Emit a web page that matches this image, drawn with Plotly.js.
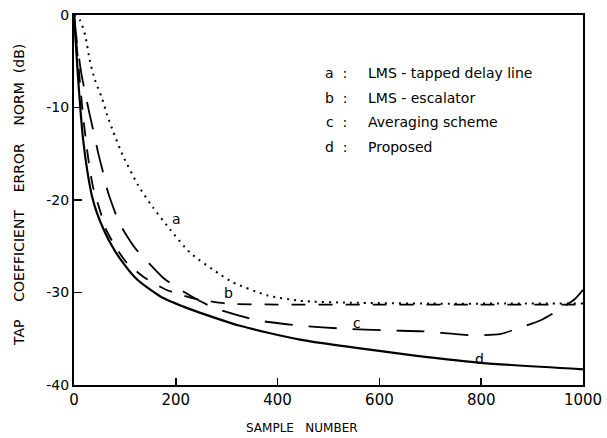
<!DOCTYPE html>
<html>
<head>
<meta charset="utf-8">
<script src="https://cdn.plot.ly/plotly-3.0.1.min.js"></script>
<style>html,body{margin:0;padding:0;background:#fff;}#chart{width:607px;height:438px;}</style>
</head>
<body>
<div id="chart"></div>
<script>
// a: LMS - tapped delay line (dotted)
const aX = [0, 12, 22, 31, 41, 55, 65, 77, 96, 126, 155, 189, 228, 283, 312, 379, 444, 542, 700, 850, 1000];
const aY = [0, -0.6, -2.2, -4.9, -7, -9, -10.8, -12.6, -15.2, -18.4, -20.8, -23.2, -25.7, -27.9, -28.9, -30.3, -30.9, -31.1, -31.2, -31.2, -31.2];
// b: LMS - escalator (medium dash)
const bX = [0, 8, 18, 28, 37, 53, 63, 83, 104, 139, 181, 232, 300, 400, 600, 800, 1000];
const bY = [0, -5, -11, -15.5, -18.5, -21.5, -23.2, -25.2, -26.8, -28.4, -29.7, -30.6, -31.2, -31.3, -31.3, -31.3, -31.3];
// c: Averaging scheme (long dash)
const cX = [0, 6, 14, 24, 31, 40, 47, 57, 67, 90, 120, 145, 175, 206, 240, 277, 360, 448, 528, 617, 686, 774, 837, 876, 917, 955, 984, 1000];
const cY = [0, -3, -6.2, -9, -10.8, -13, -14.8, -17, -19.2, -22.6, -25.2, -26.7, -28.4, -29.6, -30.7, -31.7, -33, -33.6, -33.9, -34.1, -34.2, -34.6, -34.5, -33.8, -33, -31.8, -30.7, -29.7];
// d: Proposed (solid)
const dX = [0, 4, 8, 13, 18, 26, 35, 45, 60, 75, 90, 124, 169, 228, 326, 444, 640, 800, 1000];
const dY = [0, -3.5, -6.8, -10.5, -13.5, -16.8, -19.5, -21.4, -23.4, -25, -26.3, -28.6, -30.4, -31.8, -33.6, -35.1, -36.6, -37.6, -38.3];

const xTicks = [0, 200, 400, 600, 800, 1000];
const xTickText = ['0', '200', '400', '600', '800', '1000'];
const yTicks = [0, -10, -20, -30, -40];
const yTickText = ['0', '-10', '-20', '-30', '-40'];

const legendKeys = ['a', 'b', 'c', 'd'];
const legendNames = ['LMS - tapped delay line', 'LMS - escalator', 'Averaging scheme', 'Proposed'];

const FONT = 'DejaVu Sans, Liberation Sans, sans-serif';
const sm = 0.6;
const traces = [
  {x: aX, y: aY, mode: 'lines', line: {color: '#000', width: 2, dash: '2px,5px', shape: 'spline', smoothing: sm}},
  {x: bX, y: bY, mode: 'lines', line: {color: '#000', width: 1.8, dash: '14px,13px', shape: 'spline', smoothing: sm}},
  {x: cX, y: cY, mode: 'lines', line: {color: '#000', width: 1.8, dash: '28px,16px', shape: 'spline', smoothing: sm}},
  {x: dX, y: dY, mode: 'lines', line: {color: '#000', width: 2.2, shape: 'spline', smoothing: sm}}
];

const annotations = [];
const rowY = [73, 98, 122, 147];
legendKeys.forEach((k, i) => {
  const yp = 1 - (rowY[i] - 15) / 370;
  annotations.push({xref: 'paper', yref: 'paper', x: (336 - 74) / 509, y: yp, text: k + '\u00a0\u00a0:', showarrow: false, xanchor: 'center', yanchor: 'middle', font: {family: FONT, size: 14, color: '#000'}});
  annotations.push({xref: 'paper', yref: 'paper', x: (366 - 74) / 509, y: yp, text: legendNames[i], showarrow: false, xanchor: 'left', yanchor: 'middle', font: {family: FONT, size: 14, color: '#000'}});
});
// curve labels
const curveLabelX = [202, 303, 555, 797];
const curveLabelY = [-22, -30.1, -33.3, -37.2];
legendKeys.forEach((k, i) => {
  annotations.push({x: curveLabelX[i], y: curveLabelY[i], xref: 'x', yref: 'y', text: k, showarrow: false, font: {family: FONT, size: 14, color: '#000'}});
});
// axis titles
annotations.push({xref: 'paper', yref: 'paper', x: (302 - 74) / 509, y: -(428 - 385) / 370, text: 'SAMPLE\u00a0\u00a0\u00a0NUMBER', showarrow: false, xanchor: 'center', yanchor: 'middle', font: {family: FONT, size: 12, color: '#000'}});
annotations.push({xref: 'paper', yref: 'paper', x: -(74 - 19) / 509, y: 1 - (195 - 15) / 370, text: 'TAP\u00a0\u00a0\u00a0\u00a0COEFFICIENT\u00a0\u00a0\u00a0\u00a0ERROR\u00a0\u00a0\u00a0\u00a0NORM\u00a0\u00a0(dB)', textangle: -90, showarrow: false, xanchor: 'center', yanchor: 'middle', font: {family: FONT, size: 14, color: '#000'}});

const layout = {
  width: 607, height: 438,
  margin: {l: 74, r: 24, t: 15, b: 53},
  paper_bgcolor: '#fff', plot_bgcolor: '#fff',
  showlegend: false,
  font: {family: FONT, size: 13, color: '#000'},
  xaxis: {range: [0, 1000], tickvals: xTicks, ticktext: xTickText, ticks: 'inside', ticklen: 7, tickwidth: 1.5, tickcolor: '#000', showgrid: false, zeroline: false, showline: true, linecolor: '#000', linewidth: 2, mirror: true, tickfont: {family: FONT, size: 15, color: '#000'}},
  yaxis: {range: [-40, 0], tickvals: yTicks, ticktext: yTickText, ticks: 'inside', ticklen: 8, tickwidth: 1.5, tickcolor: '#000', showgrid: false, zeroline: false, showline: true, linecolor: '#000', linewidth: 2, mirror: true, tickfont: {family: FONT, size: 14, color: '#000'}},
  annotations: annotations
};

Plotly.newPlot('chart', traces, layout, {displayModeBar: false, staticPlot: true});
</script>
</body>
</html>
